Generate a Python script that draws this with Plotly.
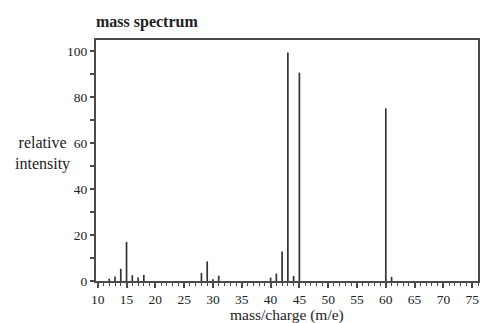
import plotly.graph_objects as go

mz = [12, 13, 14, 15, 16, 17, 18, 28, 29, 30, 31, 40, 41, 42, 43, 44, 45, 60, 61]
intensity = [1, 2, 5.3, 17, 2.5, 1.5, 2.6, 3.5, 8.5, 0.8, 2.3, 1.5, 3.2, 12.8, 99.3, 2.2, 90.5, 75, 1.8]
x_ticks = list(range(10, 80, 5))
y_ticks = [0, 20, 40, 60, 80, 100]

FONT = "Liberation Serif"
AX = "#4a4a4a"

# stick spectrum: vertical segments built from the data arrays
seg_x, seg_y = [], []
for m, v in zip(mz, intensity):
    seg_x += [m, m, None]
    seg_y += [0, v, None]

fig = go.Figure()
fig.add_trace(go.Scatter(x=seg_x, y=seg_y, mode="lines",
                         line=dict(color="#333333", width=1.7),
                         showlegend=False, hoverinfo="x+y"))

fig.update_layout(
    template="none",
    width=483, height=323,
    margin=dict(l=96, r=5, t=40, b=42, autoexpand=False),
    plot_bgcolor="white", paper_bgcolor="white",
    font=dict(family=FONT, size=13, color="#222"),
    xaxis=dict(range=[9.7, 76], tickvals=x_ticks, ticktext=[str(v) for v in x_ticks],
               automargin=False,
               showgrid=False, zeroline=False, showline=True, linecolor=AX, linewidth=2,
               mirror=True, ticks="outside", ticklen=5, tickwidth=1.5, tickcolor=AX,
               minor=dict(dtick=1, tick0=10, ticks="outside", ticklen=3, tickwidth=1.2, tickcolor=AX, showgrid=False),
               tickfont=dict(family=FONT, size=13.5, color="#222"), fixedrange=True),
    yaxis=dict(range=[0, 104.7], tickvals=y_ticks, ticktext=[str(v) for v in y_ticks],
               automargin=False,
               showgrid=False, zeroline=False, showline=True, linecolor=AX, linewidth=2,
               mirror=True, ticks="outside", ticklen=4, tickwidth=1.5, tickcolor=AX,
               minor=dict(dtick=10, tick0=0, ticks="outside", ticklen=4, tickwidth=1.5, tickcolor=AX, showgrid=False),
               tickfont=dict(family=FONT, size=13.5, color="#222"), fixedrange=True),
    annotations=[
        dict(text="<b>mass spectrum</b>", xref="paper", yref="paper", x=-0.005, y=1.0,
             yshift=18, xanchor="left", yanchor="middle", showarrow=False,
             font=dict(family=FONT, size=16, color="#222")),
        dict(text="relative<br>intensity", xref="paper", yref="paper", x=-0.139, y=0.53,
             xanchor="center", yanchor="middle", showarrow=False, align="center",
             font=dict(family=FONT, size=16, color="#222")),
        dict(text="mass/charge (m/e)", xref="paper", yref="paper", x=0.5, y=0,
             yshift=-34, xanchor="center", yanchor="middle", showarrow=False,
             font=dict(family=FONT, size=15.5, color="#222")),
    ],
)

fig.write_html("out.html", config={"displayModeBar": False},
               post_script="document.body.style.margin='0';document.body.style.overflow='hidden';")
